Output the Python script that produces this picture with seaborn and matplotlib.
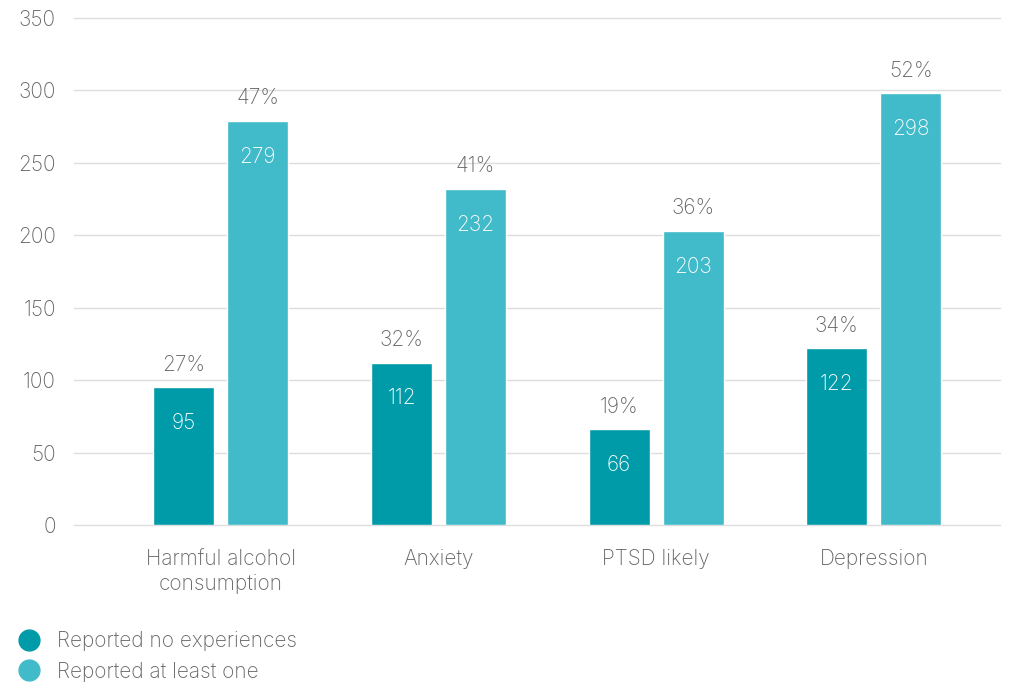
import pandas as pd
import numpy as np
import matplotlib.pyplot as plt
import seaborn as sns
from matplotlib.lines import Line2D

# Data
categories = ['Harmful alcohol\nconsumption', 'Anxiety', 'PTSD likely', 'Depression']
groups = ['Reported no experiences', 'Reported at least one']
no_exp_counts = [95, 112, 66, 122]
at_least_one_counts = [279, 232, 203, 298]
no_exp_pct = ['27%', '32%', '19%', '34%']
at_least_one_pct = ['47%', '41%', '36%', '52%']
y_ticks = [0, 50, 100, 150, 200, 250, 300, 350]

COLORS = ['#009BA8', '#41BACA']
TEXT_GREY = '#666666'
FS = 15

df = pd.DataFrame({
    'category': categories * 2,
    'group': [groups[0]] * 4 + [groups[1]] * 4,
    'count': no_exp_counts + at_least_one_counts,
    'pct': no_exp_pct + at_least_one_pct,
})

sns.set_style('white')
plt.rcParams['font.family'] = ['Inter', 'DejaVu Sans']
plt.rcParams['font.weight'] = 'light'

fig = plt.figure(figsize=(10.12, 6.84), dpi=100)
ax = fig.add_axes([74 / 1012, 159 / 684, 926 / 1012, 507 / 684])

sns.barplot(data=df, x='category', y='count', hue='group', palette=COLORS,
            width=0.68, gap=0.176, saturation=1, legend=False, ax=ax)

# labels: percentage above bar, count inside bar
for container, pcts in zip(ax.containers, [no_exp_pct, at_least_one_pct]):
    for bar, pct in zip(container, pcts):
        xc = bar.get_x() + bar.get_width() / 2
        h = bar.get_height()
        ax.annotate(pct, (xc, h), xytext=(0, 12), textcoords='offset points',
                    ha='center', va='baseline', fontsize=FS, color=TEXT_GREY)
        ax.annotate(f'{int(h)}', (xc, h), xytext=(0, -30), textcoords='offset points',
                    ha='center', va='baseline', fontsize=FS, color='white')

ax.set_xlim(-0.675, 3.58)
ax.set_ylim(0, 350)
ax.set_yticks(y_ticks)
ax.yaxis.grid(True, color='#DDDDDD', linewidth=1)
for gl in ax.get_ygridlines():
    gl.set_clip_on(False)
ax.set_axisbelow(True)
for s in ax.spines.values():
    s.set_visible(False)
ax.tick_params(axis='y', length=0, pad=13, labelsize=FS, labelcolor=TEXT_GREY)
ax.tick_params(axis='x', length=0, pad=17, labelsize=FS, labelcolor=TEXT_GREY)
for lbl in ax.get_xticklabels():
    lbl.set_linespacing(1.35)
ax.set_xlabel('')
ax.set_ylabel('')

handles = [Line2D([0], [0], marker='o', linestyle='', markersize=15,
                  markerfacecolor=c, markeredgecolor=c) for c in COLORS]
leg = fig.legend(handles, groups, loc='upper left', bbox_to_anchor=(0.018, 0.077),
                 frameon=False, fontsize=FS, handletextpad=0.85, labelspacing=0.5,
                 borderaxespad=0, handlelength=1.0, borderpad=0)
for t in leg.get_texts():
    t.set_color(TEXT_GREY)

fig.savefig('out.png', dpi=100)
